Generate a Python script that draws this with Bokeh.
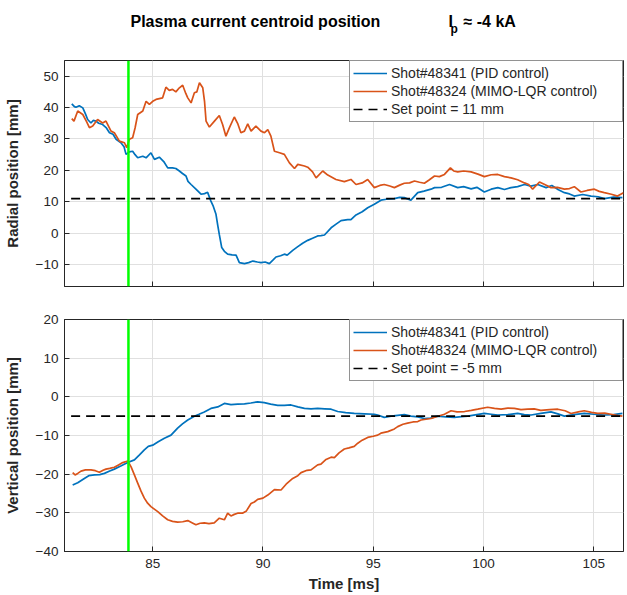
from bokeh.plotting import figure
from bokeh.layouts import column
from bokeh.models import Span, Legend, LegendItem, FixedTicker, Range1d
from bokeh.core.properties import value
from bokeh.embed import file_html
from bokeh.resources import INLINE

# ---------------- data ----------------
T_R_PID = [81.33, 81.45, 81.52, 81.67, 81.83, 81.95, 82.05, 82.2, 82.3, 82.43, 82.55, 82.73, 82.9, 83.04,
           83.2, 83.34, 83.56, 83.7, 83.79, 83.94, 84.09, 84.2, 84.32, 84.55, 84.7, 84.92, 85.08, 85.3,
           85.5, 85.68, 85.9, 86.05, 86.21, 86.35, 86.51, 86.6, 86.74, 86.96, 87.19, 87.35, 87.49, 87.64,
           87.75, 87.87, 87.95, 88.02, 88.13, 88.25, 88.4, 88.6, 88.78, 88.93, 89.16, 89.35, 89.54, 89.75,
           89.91, 90.1, 90.29, 90.45, 90.59, 90.8, 90.97, 91.1, 91.35, 91.58, 91.8, 92.03, 92.25, 92.48,
           92.63, 92.79, 93.09, 93.3, 93.54, 93.84, 93.99, 94.22, 94.5, 94.75, 95.05, 95.35, 95.6, 95.96,
           96.2, 96.41, 96.71, 97.02, 97.3, 97.62, 97.78, 98.1, 98.46, 98.83, 99.1, 99.44, 99.7, 100.04,
           100.35, 100.65, 100.95, 101.25, 101.55, 101.86, 102.15, 102.46, 102.84, 103.1, 103.4, 103.67,
           103.9, 104.12, 104.5, 104.88, 105.2, 105.48, 105.9, 106.3]
R_PID = [41.2, 40.3, 40.1, 40.6, 39.9, 38.0, 36.2, 35.1, 35.9, 35.7, 35.0, 34.6, 33.5, 32.0,
         31.5, 29.9, 28.8, 27.5, 25.1, 25.9, 26.1, 25.0, 24.0, 24.5, 24.0, 25.6, 23.5, 24.2,
         22.8, 20.8, 20.8, 20.6, 19.8, 19.0, 18.2, 16.5, 15.5, 14.0, 12.4, 12.6, 13.0, 10.2,
         8.5, 6.0, 2.5, -0.4, -4.6, -5.8, -6.7, -6.9, -7.0, -9.4, -9.7, -9.4, -8.9, -9.2,
         -9.4, -9.2, -9.7, -8.6, -7.6, -7.2, -6.7, -7.0, -5.5, -4.3, -3.2, -2.3, -1.6, -0.9,
         -0.8, -0.6, 1.7, 2.8, 4.0, 4.3, 4.3, 5.8, 6.8, 8.1, 9.2, 10.5, 10.8, 11.0,
         11.4, 11.3, 10.5, 12.9, 13.4, 14.0, 14.5, 14.6, 15.5, 14.5, 14.8, 14.1, 14.6, 13.1,
         14.0, 14.5, 13.9, 14.5, 14.8, 15.5, 15.0, 15.5, 14.5, 15.2, 13.8, 12.9,
         12.5, 11.8, 12.3, 11.8, 11.6, 11.0, 11.5, 11.3]

T_R_LQR = [81.33, 81.43, 81.6, 81.83, 82.0, 82.13, 82.28, 82.5, 82.73, 82.88, 83.11, 83.26, 83.49, 83.72,
           83.82, 83.94, 84.09, 84.2, 84.32, 84.55, 84.7, 84.85, 85.0, 85.15, 85.45, 85.6, 85.75, 85.9,
           86.05, 86.21, 86.36, 86.5, 86.59, 86.74, 86.89, 87.0, 87.12, 87.27, 87.35, 87.42, 87.57, 87.8,
           88.02, 88.17, 88.32, 88.48, 88.7, 88.85, 89.0, 89.16, 89.31, 89.46, 89.68, 89.91, 90.07, 90.22,
           90.36, 90.52, 90.75, 90.97, 91.2, 91.43, 91.58, 91.88, 92.03, 92.25, 92.41, 92.71, 92.94, 93.31,
           93.69, 93.99, 94.22, 94.5, 94.75, 95.05, 95.3, 95.5, 95.75, 95.96, 96.2, 96.41, 96.65, 96.87,
           97.1, 97.32, 97.55, 97.78, 98.0, 98.23, 98.5, 98.65, 98.83, 99.1, 99.44, 99.75, 100.04, 100.35,
           100.65, 100.95, 101.25, 101.55, 101.86, 102.05, 102.23, 102.54, 102.8, 103.06, 103.35, 103.67,
           103.9, 104.12, 104.42, 104.7, 105.03, 105.25, 105.48, 105.8, 106.08, 106.35]
R_LQR = [36.5, 35.7, 38.9, 37.8, 35.5, 33.6, 34.1, 36.2, 35.1, 35.7, 32.5, 32.0, 29.3, 28.8,
         27.2, 29.9, 30.4, 33.5, 37.8, 38.9, 42.0, 41.0, 42.0, 42.6, 43.1, 46.5, 45.5, 45.8,
         45.0, 46.3, 47.1, 44.5, 43.1, 41.5, 44.7, 45.0, 47.9, 46.3, 42.0, 35.7, 33.8, 35.7,
         37.5, 34.6, 30.9, 33.6, 37.0, 35.0, 32.0, 32.5, 34.8, 32.5, 34.1, 32.5, 32.0, 33.0,
         30.9, 26.1, 25.6, 25.1, 22.4, 20.6, 21.9, 21.4, 21.0, 19.5, 17.6, 19.8, 18.5, 17.1,
         16.4, 17.1, 15.5, 16.0, 17.1, 14.5, 15.2, 15.5, 15.0, 14.5, 15.3, 15.9, 16.0, 16.6,
         16.2, 15.9, 17.0, 18.2, 18.0, 18.7, 20.8, 19.8, 19.5, 19.8, 19.5, 18.8, 18.0, 18.6,
         18.7, 18.0, 17.6, 17.0, 16.0, 15.5, 14.0, 16.3, 15.4, 14.5, 14.6, 14.0,
         14.2, 14.8, 13.1, 13.6, 14.0, 13.3, 12.9, 12.4, 11.8, 12.9]

T_Z_PID = [81.37, 81.6, 81.9, 82.1, 82.36, 82.6, 82.81, 83.05, 83.26, 83.55, 83.87, 84.17, 84.4, 84.62,
           84.8, 85.0, 85.25, 85.53, 85.83, 86.13, 86.35, 86.59, 86.89, 87.1, 87.34, 87.64, 87.95, 88.25,
           88.55, 88.85, 89.16, 89.45, 89.76, 90.06, 90.35, 90.67, 90.97, 91.27, 91.58, 91.88, 92.18, 92.48,
           92.8, 93.09, 93.39, 93.75, 94.14, 94.6, 95.05, 95.2, 95.5, 95.81, 96.11, 96.41, 96.71, 97.02,
           97.32, 97.6, 97.92, 98.3, 98.68, 99.0, 99.29, 99.7, 100.04, 100.35, 100.65, 101.1, 101.55, 101.85,
           102.16, 102.6, 103.06, 103.37, 103.67, 104.1, 104.57, 105.0, 105.48, 105.9, 106.3]
Z_PID = [-22.8, -22.2, -21.1, -20.4, -20.2, -20.1, -19.8, -19.2, -18.7, -17.9, -17.0, -16.3, -15.0, -13.7,
         -12.8, -12.5, -11.6, -10.7, -9.9, -8.1, -7.0, -6.0, -5.0, -4.5, -3.9, -3.0, -2.6, -1.7,
         -2.0, -1.9, -1.8, -1.6, -1.3, -1.5, -1.9, -2.2, -2.2, -2.1, -2.6, -3.0, -3.1, -3.0,
         -3.1, -3.2, -3.8, -4.1, -4.3, -4.4, -4.5, -4.7, -5.3, -5.0, -4.8, -4.6, -5.0, -5.2,
         -5.6, -5.5, -5.0, -5.2, -5.3, -5.1, -5.0, -4.6, -4.3, -4.5, -4.7, -4.6, -4.3, -4.6,
         -4.7, -4.3, -3.9, -4.4, -5.0, -4.6, -4.3, -4.5, -4.7, -4.6, -4.3]

T_Z_LQR = [81.37, 81.48, 81.6, 81.75, 81.95, 82.2, 82.4, 82.58, 82.75, 82.88, 83.05, 83.26, 83.45, 83.64,
           83.87, 84.02, 84.17, 84.32, 84.47, 84.62, 84.77, 84.92, 85.23, 85.45, 85.68, 85.9, 86.13, 86.36,
           86.59, 86.8, 86.96, 87.15, 87.34, 87.55, 87.79, 88.02, 88.25, 88.4, 88.55, 88.7, 88.85, 89.07,
           89.25, 89.46, 89.61, 89.76, 90.0, 90.22, 90.52, 90.82, 91.05, 91.35, 91.58, 91.73, 92.0, 92.18,
           92.48, 92.63, 92.86, 93.09, 93.24, 93.45, 93.69, 93.9, 94.14, 94.3, 94.5, 94.75, 95.0, 95.2,
           95.35, 95.66, 95.96, 96.11, 96.35, 96.56, 96.8, 97.02, 97.17, 97.39, 97.62, 97.9, 98.23, 98.53,
           98.8, 99.14, 99.45, 99.74, 100.19, 100.5, 100.8, 101.1, 101.4, 101.7, 102.0, 102.3, 102.6, 103.0,
           103.37, 103.7, 103.97, 104.3, 104.57, 104.9, 105.18, 105.5, 105.78, 106.05, 106.3]
Z_LQR = [-19.6, -20.2, -19.8, -19.2, -18.9, -18.9, -19.1, -19.5, -19.0, -18.7, -18.5, -18.2, -17.6, -17.0,
         -16.6, -18.1, -20.2, -22.3, -24.4, -26.2, -27.5, -28.4, -29.7, -30.8, -31.8, -32.2, -32.4, -32.3,
         -32.0, -32.6, -33.1, -32.7, -32.6, -32.8, -32.6, -31.4, -31.8, -30.1, -30.8, -30.4, -30.1, -30.1,
         -29.5, -27.6, -27.2, -26.5, -26.2, -25.4, -24.0, -24.1, -22.6, -21.1, -20.4, -19.6, -19.0, -18.9,
         -17.6, -17.4, -16.2, -15.6, -15.7, -14.5, -13.5, -13.2, -12.8, -12.0, -11.2, -10.5, -10.2, -9.9,
         -9.4, -9.0, -8.3, -7.7, -7.1, -6.8, -6.5, -6.4, -6.0, -5.8, -5.6, -5.1, -4.5, -3.6,
         -3.9, -3.8, -3.5, -3.2, -2.7, -3.0, -3.2, -2.9, -3.0, -3.3, -3.2, -3.1, -3.5, -3.3,
         -3.2, -3.6, -4.3, -3.9, -3.6, -4.0, -4.3, -4.2, -4.5, -4.8, -5.0]

SETPOINT_T = [81.3, 106.3]
SETPOINT_R = 11
SETPOINT_Z = -5
TRIGGER_T = 83.9

X_TICKS = [85, 90, 95, 100, 105]
R_TICKS = [-10, 0, 10, 20, 30, 40, 50]
Z_TICKS = [-40, -30, -20, -10, 0, 10, 20]

LABEL_PID = "Shot#48341 (PID control)"
LABEL_LQR = "Shot#48324 (MIMO-LQR control)"
TITLE = "Plasma current centroid position"
IP_MAIN = "I"
IP_SUB = "p"
IP_REST = "\u2248 -4 kA"

# ---------------- styling ----------------
FONT = "Liberation Sans"
BLUE = "#0072BD"
ORANGE = "#D95319"
DARK = "#262626"
GRID = "#e0e0e0"
FRAME_W = 559
BORDER_L = 59
BORDER_R = 1


def make_fig(yr, yticks, frame_h, top_b, bottom_b, ylabel, show_x):
    p = figure(frame_width=FRAME_W, frame_height=frame_h,
               x_range=Range1d(81.0, 106.35), y_range=Range1d(*yr),
               output_backend="svg", toolbar_location=None,
               min_border_left=BORDER_L, min_border_right=BORDER_R,
               min_border_top=top_b, min_border_bottom=bottom_b,
               background_fill_color="white", border_fill_color="white")
    p.outline_line_color = DARK
    p.outline_line_width = 1
    for ax, ticks in ((p.xaxis[0], X_TICKS), (p.yaxis[0], yticks)):
        ax.ticker = FixedTicker(ticks=ticks)
        ax.major_tick_in = 5
        ax.major_tick_out = 0
        ax.minor_tick_line_color = None
        ax.axis_line_color = DARK
        ax.major_tick_line_color = DARK
        ax.major_label_text_font = FONT
        ax.major_label_text_font_size = "13.5px"
        ax.major_label_text_color = DARK
        ax.axis_label_text_font = FONT
        ax.axis_label_text_font_size = "15px"
        ax.axis_label_text_font_style = "bold"
        ax.axis_label_text_color = DARK
    p.yaxis.axis_label = ylabel
    p.yaxis.major_label_standoff = 6
    p.yaxis.axis_label_standoff = 12
    if show_x:
        p.xaxis.axis_label = "Time [ms]"
        p.xaxis.major_label_standoff = 7
        p.xaxis.axis_label_standoff = 4
    else:
        p.xaxis.major_label_overrides = {t: "" for t in X_TICKS}
        p.xaxis.major_label_standoff = 0
    p.xgrid.grid_line_color = GRID
    p.ygrid.grid_line_color = GRID
    return p


def add_series(p, t1, y1, t2, y2, sp, sp_label):
    r1 = p.line(t1, y1, line_color=BLUE, line_width=1.7)
    r2 = p.line(t2, y2, line_color=ORANGE, line_width=1.7)
    r3 = p.line(SETPOINT_T, [sp, sp], line_color="black", line_width=1.6, line_dash="9 6")
    p.add_layout(Span(location=TRIGGER_T, dimension="height", line_color="#00ff00", line_width=2.5))
    legend = Legend(items=[LegendItem(label=LABEL_PID, renderers=[r1]),
                           LegendItem(label=LABEL_LQR, renderers=[r2]),
                           LegendItem(label=sp_label, renderers=[r3])],
                    location="top_right", margin=0, padding=3, spacing=0,
                    glyph_width=34, glyph_height=18, label_height=18,
                    label_standoff=4, label_width=228,
                    label_text_font=FONT, label_text_font_size="14px",
                    label_text_color=DARK,
                    border_line_color=DARK, border_line_width=1,
                    background_fill_color="white", background_fill_alpha=1.0)
    p.add_layout(legend)


# title strip: its own small figure, same frame as the panels; x/y are page pixels
TITLE_H = 51
pt = figure(frame_width=FRAME_W, frame_height=TITLE_H,
            x_range=Range1d(67, 67 + FRAME_W), y_range=Range1d(TITLE_H, 0),
            output_backend="svg", toolbar_location=None,
            min_border_left=BORDER_L, min_border_right=BORDER_R,
            min_border_top=0, min_border_bottom=0,
            x_axis_type=None, y_axis_type=None, outline_line_color=None,
            background_fill_color="white", border_fill_color="white")
pt.xgrid.visible = False
pt.ygrid.visible = False
pt.text(x=[133], y=[21], text=[TITLE], text_font=value(FONT), text_font_size="16px",
        text_font_style="bold", text_color="black", text_baseline="alphabetic", text_align="left")
pt.text(x=[451], y=[21], text=[IP_MAIN], text_font=value(FONT), text_font_size="16px",
        text_font_style="bold", text_color="black", text_baseline="alphabetic", text_align="left")
pt.text(x=[453], y=[28], text=[IP_SUB], text_font=value(FONT), text_font_size="12px",
        text_font_style="bold", text_color="black", text_baseline="alphabetic", text_align="left")
pt.text(x=[466], y=[21], text=[IP_REST], text_font=value(FONT), text_font_size="16px",
        text_font_style="bold", text_color="black", text_baseline="alphabetic", text_align="left")

p1 = make_fig((-17, 55), R_TICKS, 226, 9, 10, "Radial position [mm]", False)
add_series(p1, T_R_PID, R_PID, T_R_LQR, R_LQR, SETPOINT_R, "Set point = 11 mm")

p2 = make_fig((-40, 20), Z_TICKS, 232, 23, 20, "Vertical position [mm]", True)
add_series(p2, T_Z_PID, Z_PID, T_Z_LQR, Z_LQR, SETPOINT_Z, "Set point = -5 mm")

layout = column(pt, p1, p2, spacing=0)
open("out.html", "w").write(file_html(layout, INLINE))
